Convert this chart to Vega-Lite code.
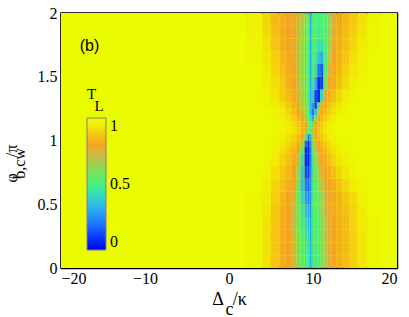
{
"$schema": "https://vega.github.io/schema/vega-lite/v6.json",
"width": 336, "height": 255,
"autosize": {"type": "none"},
"padding": {"left": 61, "top": 13, "right": 12, "bottom": 49},
"background": "white",
"config": {"view": {"stroke": "black", "strokeWidth": 1.5, "fill": "#eaff00"}, "font": "Liberation Serif"},
"resolve": {"axis": {"x": "independent", "y": "independent"}},
"layer": [
{
"data": {"values": [
{"x":-20,"x2":2,"y":0,"y2":2,"t":0.99},
{"x":18,"x2":20,"y":0,"y2":2,"t":0.99},
{"x":2,"x2":4,"y":0,"y2":0.1,"t":0.97},{"x":4,"x2":5,"y":0,"y2":0.1,"t":0.92},{"x":5,"x2":6,"y":0,"y2":0.1,"t":0.87},{"x":6,"x2":6.7,"y":0,"y2":0.1,"t":0.82},{"x":6.7,"x2":7.4,"y":0,"y2":0.1,"t":0.8},{"x":7.4,"x2":8,"y":0,"y2":0.1,"t":0.74},{"x":8,"x2":8.5,"y":0,"y2":0.1,"t":0.62},{"x":8.5,"x2":9,"y":0,"y2":0.1,"t":0.52},{"x":9,"x2":9.35,"y":0,"y2":0.1,"t":0.48},{"x":9.35,"x2":9.6,"y":0,"y2":0.1,"t":0.46},{"x":9.6,"x2":9.85,"y":0,"y2":0.1,"t":0.3},{"x":9.85,"x2":10.15,"y":0,"y2":0.1,"t":0.47},{"x":10.15,"x2":10.5,"y":0,"y2":0.1,"t":0.49},{"x":10.5,"x2":10.85,"y":0,"y2":0.1,"t":0.51},{"x":10.85,"x2":11.25,"y":0,"y2":0.1,"t":0.58},{"x":11.25,"x2":11.7,"y":0,"y2":0.1,"t":0.68},{"x":11.7,"x2":12.2,"y":0,"y2":0.1,"t":0.76},{"x":12.2,"x2":12.8,"y":0,"y2":0.1,"t":0.8},{"x":12.8,"x2":13.5,"y":0,"y2":0.1,"t":0.82},{"x":13.5,"x2":14.3,"y":0,"y2":0.1,"t":0.85},{"x":14.3,"x2":15.3,"y":0,"y2":0.1,"t":0.89},{"x":15.3,"x2":16.5,"y":0,"y2":0.1,"t":0.93},{"x":16.5,"x2":18,"y":0,"y2":0.1,"t":0.97},
{"x":2,"x2":4,"y":0.1,"y2":0.2,"t":0.97},{"x":4,"x2":5,"y":0.1,"y2":0.2,"t":0.92},{"x":5,"x2":6,"y":0.1,"y2":0.2,"t":0.87},{"x":6,"x2":6.7,"y":0.1,"y2":0.2,"t":0.82},{"x":6.7,"x2":7.4,"y":0.1,"y2":0.2,"t":0.8},{"x":7.4,"x2":8,"y":0.1,"y2":0.2,"t":0.74},{"x":8,"x2":8.5,"y":0.1,"y2":0.2,"t":0.62},{"x":8.5,"x2":9,"y":0.1,"y2":0.2,"t":0.52},{"x":9,"x2":9.35,"y":0.1,"y2":0.2,"t":0.46},{"x":9.35,"x2":9.6,"y":0.1,"y2":0.2,"t":0.44},{"x":9.6,"x2":9.85,"y":0.1,"y2":0.2,"t":0.3},{"x":9.85,"x2":10.15,"y":0.1,"y2":0.2,"t":0.47},{"x":10.15,"x2":10.5,"y":0.1,"y2":0.2,"t":0.49},{"x":10.5,"x2":10.85,"y":0.1,"y2":0.2,"t":0.51},{"x":10.85,"x2":11.25,"y":0.1,"y2":0.2,"t":0.58},{"x":11.25,"x2":11.7,"y":0.1,"y2":0.2,"t":0.68},{"x":11.7,"x2":12.2,"y":0.1,"y2":0.2,"t":0.76},{"x":12.2,"x2":12.8,"y":0.1,"y2":0.2,"t":0.8},{"x":12.8,"x2":13.5,"y":0.1,"y2":0.2,"t":0.82},{"x":13.5,"x2":14.3,"y":0.1,"y2":0.2,"t":0.85},{"x":14.3,"x2":15.3,"y":0.1,"y2":0.2,"t":0.89},{"x":15.3,"x2":16.5,"y":0.1,"y2":0.2,"t":0.93},{"x":16.5,"x2":18,"y":0.1,"y2":0.2,"t":0.97},
{"x":2,"x2":4,"y":0.2,"y2":0.3,"t":0.97},{"x":4,"x2":5,"y":0.2,"y2":0.3,"t":0.92},{"x":5,"x2":6,"y":0.2,"y2":0.3,"t":0.87},{"x":6,"x2":6.7,"y":0.2,"y2":0.3,"t":0.82},{"x":6.7,"x2":7.4,"y":0.2,"y2":0.3,"t":0.8},{"x":7.4,"x2":8,"y":0.2,"y2":0.3,"t":0.73},{"x":8,"x2":8.5,"y":0.2,"y2":0.3,"t":0.6},{"x":8.5,"x2":9,"y":0.2,"y2":0.3,"t":0.5},{"x":9,"x2":9.35,"y":0.2,"y2":0.3,"t":0.44},{"x":9.35,"x2":9.6,"y":0.2,"y2":0.3,"t":0.4},{"x":9.6,"x2":9.85,"y":0.2,"y2":0.3,"t":0.3},{"x":9.85,"x2":10.15,"y":0.2,"y2":0.3,"t":0.48},{"x":10.15,"x2":10.5,"y":0.2,"y2":0.3,"t":0.5},{"x":10.5,"x2":10.85,"y":0.2,"y2":0.3,"t":0.52},{"x":10.85,"x2":11.25,"y":0.2,"y2":0.3,"t":0.59},{"x":11.25,"x2":11.7,"y":0.2,"y2":0.3,"t":0.69},{"x":11.7,"x2":12.2,"y":0.2,"y2":0.3,"t":0.77},{"x":12.2,"x2":12.8,"y":0.2,"y2":0.3,"t":0.8},{"x":12.8,"x2":13.5,"y":0.2,"y2":0.3,"t":0.82},{"x":13.5,"x2":14.3,"y":0.2,"y2":0.3,"t":0.85},{"x":14.3,"x2":15.3,"y":0.2,"y2":0.3,"t":0.89},{"x":15.3,"x2":16.5,"y":0.2,"y2":0.3,"t":0.93},{"x":16.5,"x2":18,"y":0.2,"y2":0.3,"t":0.97},
{"x":2,"x2":4,"y":0.3,"y2":0.4,"t":0.97},{"x":4,"x2":5,"y":0.3,"y2":0.4,"t":0.92},{"x":5,"x2":6,"y":0.3,"y2":0.4,"t":0.87},{"x":6,"x2":6.7,"y":0.3,"y2":0.4,"t":0.82},{"x":6.7,"x2":7.4,"y":0.3,"y2":0.4,"t":0.8},{"x":7.4,"x2":8,"y":0.3,"y2":0.4,"t":0.72},{"x":8,"x2":8.5,"y":0.3,"y2":0.4,"t":0.58},{"x":8.5,"x2":9,"y":0.3,"y2":0.4,"t":0.48},{"x":9,"x2":9.35,"y":0.3,"y2":0.4,"t":0.4},{"x":9.35,"x2":9.6,"y":0.3,"y2":0.4,"t":0.36},{"x":9.6,"x2":9.85,"y":0.3,"y2":0.4,"t":0.3},{"x":9.85,"x2":10.15,"y":0.3,"y2":0.4,"t":0.48},{"x":10.15,"x2":10.5,"y":0.3,"y2":0.4,"t":0.5},{"x":10.5,"x2":10.85,"y":0.3,"y2":0.4,"t":0.53},{"x":10.85,"x2":11.25,"y":0.3,"y2":0.4,"t":0.6},{"x":11.25,"x2":11.7,"y":0.3,"y2":0.4,"t":0.7},{"x":11.7,"x2":12.2,"y":0.3,"y2":0.4,"t":0.77},{"x":12.2,"x2":12.8,"y":0.3,"y2":0.4,"t":0.8},{"x":12.8,"x2":13.5,"y":0.3,"y2":0.4,"t":0.82},{"x":13.5,"x2":14.3,"y":0.3,"y2":0.4,"t":0.85},{"x":14.3,"x2":15.3,"y":0.3,"y2":0.4,"t":0.9},{"x":15.3,"x2":16.5,"y":0.3,"y2":0.4,"t":0.94},{"x":16.5,"x2":18,"y":0.3,"y2":0.4,"t":0.97},
{"x":2,"x2":4,"y":0.4,"y2":0.5,"t":0.97},{"x":4,"x2":5,"y":0.4,"y2":0.5,"t":0.93},{"x":5,"x2":6,"y":0.4,"y2":0.5,"t":0.88},{"x":6,"x2":6.7,"y":0.4,"y2":0.5,"t":0.83},{"x":6.7,"x2":7.4,"y":0.4,"y2":0.5,"t":0.8},{"x":7.4,"x2":8,"y":0.4,"y2":0.5,"t":0.72},{"x":8,"x2":8.5,"y":0.4,"y2":0.5,"t":0.58},{"x":8.5,"x2":9,"y":0.4,"y2":0.5,"t":0.45},{"x":9,"x2":9.35,"y":0.4,"y2":0.5,"t":0.34},{"x":9.35,"x2":9.6,"y":0.4,"y2":0.5,"t":0.3},{"x":9.6,"x2":9.85,"y":0.4,"y2":0.5,"t":0.28},{"x":9.85,"x2":10.15,"y":0.4,"y2":0.5,"t":0.49},{"x":10.15,"x2":10.5,"y":0.4,"y2":0.5,"t":0.51},{"x":10.5,"x2":10.85,"y":0.4,"y2":0.5,"t":0.55},{"x":10.85,"x2":11.25,"y":0.4,"y2":0.5,"t":0.63},{"x":11.25,"x2":11.7,"y":0.4,"y2":0.5,"t":0.72},{"x":11.7,"x2":12.2,"y":0.4,"y2":0.5,"t":0.78},{"x":12.2,"x2":12.8,"y":0.4,"y2":0.5,"t":0.81},{"x":12.8,"x2":13.5,"y":0.4,"y2":0.5,"t":0.83},{"x":13.5,"x2":14.3,"y":0.4,"y2":0.5,"t":0.86},{"x":14.3,"x2":15.3,"y":0.4,"y2":0.5,"t":0.9},{"x":15.3,"x2":16.5,"y":0.4,"y2":0.5,"t":0.94},{"x":16.5,"x2":18,"y":0.4,"y2":0.5,"t":0.98},
{"x":2,"x2":4,"y":0.5,"y2":0.6,"t":0.97},{"x":4,"x2":5,"y":0.5,"y2":0.6,"t":0.94},{"x":5,"x2":6,"y":0.5,"y2":0.6,"t":0.89},{"x":6,"x2":6.7,"y":0.5,"y2":0.6,"t":0.84},{"x":6.7,"x2":7.4,"y":0.5,"y2":0.6,"t":0.8},{"x":7.4,"x2":8,"y":0.5,"y2":0.6,"t":0.76},{"x":8,"x2":8.5,"y":0.5,"y2":0.6,"t":0.56},{"x":8.5,"x2":9,"y":0.5,"y2":0.6,"t":0.4},{"x":9,"x2":9.35,"y":0.5,"y2":0.6,"t":0.27},{"x":9.35,"x2":9.6,"y":0.5,"y2":0.6,"t":0.24},{"x":9.6,"x2":9.85,"y":0.5,"y2":0.6,"t":0.26},{"x":9.85,"x2":10.15,"y":0.5,"y2":0.6,"t":0.48},{"x":10.15,"x2":10.5,"y":0.5,"y2":0.6,"t":0.52},{"x":10.5,"x2":10.85,"y":0.5,"y2":0.6,"t":0.57},{"x":10.85,"x2":11.25,"y":0.5,"y2":0.6,"t":0.62},{"x":11.25,"x2":11.7,"y":0.5,"y2":0.6,"t":0.72},{"x":11.7,"x2":12.2,"y":0.5,"y2":0.6,"t":0.79},{"x":12.2,"x2":12.8,"y":0.5,"y2":0.6,"t":0.81},{"x":12.8,"x2":13.5,"y":0.5,"y2":0.6,"t":0.83},{"x":13.5,"x2":14.3,"y":0.5,"y2":0.6,"t":0.87},{"x":14.3,"x2":15.3,"y":0.5,"y2":0.6,"t":0.91},{"x":15.3,"x2":16.5,"y":0.5,"y2":0.6,"t":0.95},{"x":16.5,"x2":18,"y":0.5,"y2":0.6,"t":0.98},
{"x":2,"x2":4,"y":0.6,"y2":0.7,"t":0.98},{"x":4,"x2":5,"y":0.6,"y2":0.7,"t":0.95},{"x":5,"x2":6,"y":0.6,"y2":0.7,"t":0.9},{"x":6,"x2":6.7,"y":0.6,"y2":0.7,"t":0.86},{"x":6.7,"x2":7.4,"y":0.6,"y2":0.7,"t":0.82},{"x":7.4,"x2":8,"y":0.6,"y2":0.7,"t":0.79},{"x":8,"x2":8.5,"y":0.6,"y2":0.7,"t":0.6},{"x":8.5,"x2":9,"y":0.6,"y2":0.7,"t":0.35},{"x":9,"x2":9.35,"y":0.6,"y2":0.7,"t":0.2},{"x":9.35,"x2":9.6,"y":0.6,"y2":0.7,"t":0.17},{"x":9.6,"x2":9.85,"y":0.6,"y2":0.7,"t":0.25},{"x":9.85,"x2":10.15,"y":0.6,"y2":0.7,"t":0.46},{"x":10.15,"x2":10.5,"y":0.6,"y2":0.7,"t":0.53},{"x":10.5,"x2":10.85,"y":0.6,"y2":0.7,"t":0.6},{"x":10.85,"x2":11.25,"y":0.6,"y2":0.7,"t":0.68},{"x":11.25,"x2":11.7,"y":0.6,"y2":0.7,"t":0.76},{"x":11.7,"x2":12.2,"y":0.6,"y2":0.7,"t":0.8},{"x":12.2,"x2":12.8,"y":0.6,"y2":0.7,"t":0.82},{"x":12.8,"x2":13.5,"y":0.6,"y2":0.7,"t":0.86},{"x":13.5,"x2":14.3,"y":0.6,"y2":0.7,"t":0.9},{"x":14.3,"x2":15.3,"y":0.6,"y2":0.7,"t":0.94},{"x":15.3,"x2":16.5,"y":0.6,"y2":0.7,"t":0.97},{"x":16.5,"x2":18,"y":0.6,"y2":0.7,"t":0.99},
{"x":2,"x2":4,"y":0.7,"y2":0.8,"t":0.98},{"x":4,"x2":5,"y":0.7,"y2":0.8,"t":0.96},{"x":5,"x2":6,"y":0.7,"y2":0.8,"t":0.92},{"x":6,"x2":6.7,"y":0.7,"y2":0.8,"t":0.88},{"x":6.7,"x2":7.4,"y":0.7,"y2":0.8,"t":0.84},{"x":7.4,"x2":8,"y":0.7,"y2":0.8,"t":0.8},{"x":8,"x2":8.5,"y":0.7,"y2":0.8,"t":0.66},{"x":8.5,"x2":9,"y":0.7,"y2":0.8,"t":0.36},{"x":9,"x2":9.35,"y":0.7,"y2":0.8,"t":0.12},{"x":9.35,"x2":9.6,"y":0.7,"y2":0.8,"t":0.1},{"x":9.6,"x2":9.85,"y":0.7,"y2":0.8,"t":0.22},{"x":9.85,"x2":10.15,"y":0.7,"y2":0.8,"t":0.45},{"x":10.15,"x2":10.5,"y":0.7,"y2":0.8,"t":0.56},{"x":10.5,"x2":10.85,"y":0.7,"y2":0.8,"t":0.66},{"x":10.85,"x2":11.25,"y":0.7,"y2":0.8,"t":0.75},{"x":11.25,"x2":11.7,"y":0.7,"y2":0.8,"t":0.8},{"x":11.7,"x2":12.2,"y":0.7,"y2":0.8,"t":0.82},{"x":12.2,"x2":12.8,"y":0.7,"y2":0.8,"t":0.86},{"x":12.8,"x2":13.5,"y":0.7,"y2":0.8,"t":0.9},{"x":13.5,"x2":14.3,"y":0.7,"y2":0.8,"t":0.93},{"x":14.3,"x2":15.3,"y":0.7,"y2":0.8,"t":0.96},{"x":15.3,"x2":16.5,"y":0.7,"y2":0.8,"t":0.98},{"x":16.5,"x2":18,"y":0.7,"y2":0.8,"t":0.99},
{"x":2,"x2":4,"y":0.8,"y2":0.9,"t":0.99},{"x":4,"x2":5,"y":0.8,"y2":0.9,"t":0.97},{"x":5,"x2":6,"y":0.8,"y2":0.9,"t":0.94},{"x":6,"x2":6.7,"y":0.8,"y2":0.9,"t":0.9},{"x":6.7,"x2":7.4,"y":0.8,"y2":0.9,"t":0.86},{"x":7.4,"x2":8,"y":0.8,"y2":0.9,"t":0.82},{"x":8,"x2":8.5,"y":0.8,"y2":0.9,"t":0.74},{"x":8.5,"x2":9,"y":0.8,"y2":0.9,"t":0.42},{"x":9,"x2":9.35,"y":0.8,"y2":0.9,"t":0.06},{"x":9.35,"x2":9.6,"y":0.8,"y2":0.9,"t":0.04},{"x":9.6,"x2":9.85,"y":0.8,"y2":0.9,"t":0.2},{"x":9.85,"x2":10.15,"y":0.8,"y2":0.9,"t":0.46},{"x":10.15,"x2":10.5,"y":0.8,"y2":0.9,"t":0.62},{"x":10.5,"x2":10.85,"y":0.8,"y2":0.9,"t":0.74},{"x":10.85,"x2":11.25,"y":0.8,"y2":0.9,"t":0.8},{"x":11.25,"x2":11.7,"y":0.8,"y2":0.9,"t":0.82},{"x":11.7,"x2":12.2,"y":0.8,"y2":0.9,"t":0.86},{"x":12.2,"x2":12.8,"y":0.8,"y2":0.9,"t":0.9},{"x":12.8,"x2":13.5,"y":0.8,"y2":0.9,"t":0.93},{"x":13.5,"x2":14.3,"y":0.8,"y2":0.9,"t":0.95},{"x":14.3,"x2":15.3,"y":0.8,"y2":0.9,"t":0.97},{"x":15.3,"x2":16.5,"y":0.8,"y2":0.9,"t":0.98},{"x":16.5,"x2":18,"y":0.8,"y2":0.9,"t":0.99},
{"x":2,"x2":4,"y":0.9,"y2":0.95,"t":0.99},{"x":4,"x2":5,"y":0.9,"y2":0.95,"t":0.97},{"x":5,"x2":6,"y":0.9,"y2":0.95,"t":0.95},{"x":6,"x2":6.7,"y":0.9,"y2":0.95,"t":0.92},{"x":6.7,"x2":7.4,"y":0.9,"y2":0.95,"t":0.88},{"x":7.4,"x2":8,"y":0.9,"y2":0.95,"t":0.84},{"x":8,"x2":8.5,"y":0.9,"y2":0.95,"t":0.8},{"x":8.5,"x2":9,"y":0.9,"y2":0.95,"t":0.52},{"x":9,"x2":9.35,"y":0.9,"y2":0.95,"t":0.06},{"x":9.35,"x2":9.6,"y":0.9,"y2":0.95,"t":0.04},{"x":9.6,"x2":9.85,"y":0.9,"y2":0.95,"t":0.2},{"x":9.85,"x2":10.15,"y":0.9,"y2":0.95,"t":0.5},{"x":10.15,"x2":10.5,"y":0.9,"y2":0.95,"t":0.68},{"x":10.5,"x2":10.85,"y":0.9,"y2":0.95,"t":0.78},{"x":10.85,"x2":11.25,"y":0.9,"y2":0.95,"t":0.81},{"x":11.25,"x2":11.7,"y":0.9,"y2":0.95,"t":0.85},{"x":11.7,"x2":12.2,"y":0.9,"y2":0.95,"t":0.89},{"x":12.2,"x2":12.8,"y":0.9,"y2":0.95,"t":0.92},{"x":12.8,"x2":13.5,"y":0.9,"y2":0.95,"t":0.95},{"x":13.5,"x2":14.3,"y":0.9,"y2":0.95,"t":0.97},{"x":14.3,"x2":15.3,"y":0.9,"y2":0.95,"t":0.98},{"x":15.3,"x2":16.5,"y":0.9,"y2":0.95,"t":0.99},{"x":16.5,"x2":18,"y":0.9,"y2":0.95,"t":0.99},
{"x":2,"x2":4,"y":0.95,"y2":1,"t":0.99},{"x":4,"x2":5,"y":0.95,"y2":1,"t":0.98},{"x":5,"x2":6,"y":0.95,"y2":1,"t":0.96},{"x":6,"x2":6.7,"y":0.95,"y2":1,"t":0.93},{"x":6.7,"x2":7.4,"y":0.95,"y2":1,"t":0.9},{"x":7.4,"x2":8,"y":0.95,"y2":1,"t":0.87},{"x":8,"x2":8.5,"y":0.95,"y2":1,"t":0.82},{"x":8.5,"x2":9,"y":0.95,"y2":1,"t":0.68},{"x":9,"x2":9.35,"y":0.95,"y2":1,"t":0.16},{"x":9.35,"x2":9.6,"y":0.95,"y2":1,"t":0.07},{"x":9.6,"x2":9.85,"y":0.95,"y2":1,"t":0.22},{"x":9.85,"x2":10.15,"y":0.95,"y2":1,"t":0.55},{"x":10.15,"x2":10.5,"y":0.95,"y2":1,"t":0.74},{"x":10.5,"x2":10.85,"y":0.95,"y2":1,"t":0.8},{"x":10.85,"x2":11.25,"y":0.95,"y2":1,"t":0.84},{"x":11.25,"x2":11.7,"y":0.95,"y2":1,"t":0.88},{"x":11.7,"x2":12.2,"y":0.95,"y2":1,"t":0.91},{"x":12.2,"x2":12.8,"y":0.95,"y2":1,"t":0.94},{"x":12.8,"x2":13.5,"y":0.95,"y2":1,"t":0.96},{"x":13.5,"x2":14.3,"y":0.95,"y2":1,"t":0.97},{"x":14.3,"x2":15.3,"y":0.95,"y2":1,"t":0.98},{"x":15.3,"x2":16.5,"y":0.95,"y2":1,"t":0.99},{"x":16.5,"x2":18,"y":0.95,"y2":1,"t":0.99},
{"x":2,"x2":4,"y":1,"y2":1.05,"t":0.99},{"x":4,"x2":5,"y":1,"y2":1.05,"t":0.98},{"x":5,"x2":6,"y":1,"y2":1.05,"t":0.97},{"x":6,"x2":6.7,"y":1,"y2":1.05,"t":0.95},{"x":6.7,"x2":7.4,"y":1,"y2":1.05,"t":0.92},{"x":7.4,"x2":8,"y":1,"y2":1.05,"t":0.89},{"x":8,"x2":8.5,"y":1,"y2":1.05,"t":0.85},{"x":8.5,"x2":9,"y":1,"y2":1.05,"t":0.8},{"x":9,"x2":9.35,"y":1,"y2":1.05,"t":0.45},{"x":9.35,"x2":9.6,"y":1,"y2":1.05,"t":0.2},{"x":9.6,"x2":9.85,"y":1,"y2":1.05,"t":0.3},{"x":9.85,"x2":10.15,"y":1,"y2":1.05,"t":0.62},{"x":10.15,"x2":10.5,"y":1,"y2":1.05,"t":0.79},{"x":10.5,"x2":10.85,"y":1,"y2":1.05,"t":0.84},{"x":10.85,"x2":11.25,"y":1,"y2":1.05,"t":0.88},{"x":11.25,"x2":11.7,"y":1,"y2":1.05,"t":0.91},{"x":11.7,"x2":12.2,"y":1,"y2":1.05,"t":0.94},{"x":12.2,"x2":12.8,"y":1,"y2":1.05,"t":0.96},{"x":12.8,"x2":13.5,"y":1,"y2":1.05,"t":0.97},{"x":13.5,"x2":14.3,"y":1,"y2":1.05,"t":0.98},{"x":14.3,"x2":15.3,"y":1,"y2":1.05,"t":0.99},{"x":15.3,"x2":16.5,"y":1,"y2":1.05,"t":0.99},{"x":16.5,"x2":18,"y":1,"y2":1.05,"t":0.99},
{"x":2,"x2":4,"y":1.05,"y2":1.1,"t":0.99},{"x":4,"x2":5,"y":1.05,"y2":1.1,"t":0.99},{"x":5,"x2":6,"y":1.05,"y2":1.1,"t":0.98},{"x":6,"x2":6.7,"y":1.05,"y2":1.1,"t":0.96},{"x":6.7,"x2":7.4,"y":1.05,"y2":1.1,"t":0.94},{"x":7.4,"x2":8,"y":1.05,"y2":1.1,"t":0.92},{"x":8,"x2":8.5,"y":1.05,"y2":1.1,"t":0.89},{"x":8.5,"x2":9,"y":1.05,"y2":1.1,"t":0.84},{"x":9,"x2":9.35,"y":1.05,"y2":1.1,"t":0.75},{"x":9.35,"x2":9.6,"y":1.05,"y2":1.1,"t":0.55},{"x":9.6,"x2":9.85,"y":1.05,"y2":1.1,"t":0.5},{"x":9.85,"x2":10.15,"y":1.05,"y2":1.1,"t":0.65},{"x":10.15,"x2":10.5,"y":1.05,"y2":1.1,"t":0.8},{"x":10.5,"x2":10.85,"y":1.05,"y2":1.1,"t":0.86},{"x":10.85,"x2":11.25,"y":1.05,"y2":1.1,"t":0.9},{"x":11.25,"x2":11.7,"y":1.05,"y2":1.1,"t":0.93},{"x":11.7,"x2":12.2,"y":1.05,"y2":1.1,"t":0.95},{"x":12.2,"x2":12.8,"y":1.05,"y2":1.1,"t":0.97},{"x":12.8,"x2":13.5,"y":1.05,"y2":1.1,"t":0.98},{"x":13.5,"x2":14.3,"y":1.05,"y2":1.1,"t":0.99},{"x":14.3,"x2":15.3,"y":1.05,"y2":1.1,"t":0.99},{"x":15.3,"x2":16.5,"y":1.05,"y2":1.1,"t":0.99},{"x":16.5,"x2":18,"y":1.05,"y2":1.1,"t":0.99},
{"x":2,"x2":4,"y":1.1,"y2":1.15,"t":0.99},{"x":4,"x2":5,"y":1.1,"y2":1.15,"t":0.99},{"x":5,"x2":6,"y":1.1,"y2":1.15,"t":0.98},{"x":6,"x2":6.7,"y":1.1,"y2":1.15,"t":0.96},{"x":6.7,"x2":7.4,"y":1.1,"y2":1.15,"t":0.94},{"x":7.4,"x2":8,"y":1.1,"y2":1.15,"t":0.92},{"x":8,"x2":8.5,"y":1.1,"y2":1.15,"t":0.88},{"x":8.5,"x2":9,"y":1.1,"y2":1.15,"t":0.83},{"x":9,"x2":9.35,"y":1.1,"y2":1.15,"t":0.76},{"x":9.35,"x2":9.6,"y":1.1,"y2":1.15,"t":0.62},{"x":9.6,"x2":9.85,"y":1.1,"y2":1.15,"t":0.5},{"x":9.85,"x2":10.15,"y":1.1,"y2":1.15,"t":0.55},{"x":10.15,"x2":10.5,"y":1.1,"y2":1.15,"t":0.78},{"x":10.5,"x2":10.85,"y":1.1,"y2":1.15,"t":0.85},{"x":10.85,"x2":11.25,"y":1.1,"y2":1.15,"t":0.89},{"x":11.25,"x2":11.7,"y":1.1,"y2":1.15,"t":0.92},{"x":11.7,"x2":12.2,"y":1.1,"y2":1.15,"t":0.95},{"x":12.2,"x2":12.8,"y":1.1,"y2":1.15,"t":0.97},{"x":12.8,"x2":13.5,"y":1.1,"y2":1.15,"t":0.98},{"x":13.5,"x2":14.3,"y":1.1,"y2":1.15,"t":0.99},{"x":14.3,"x2":15.3,"y":1.1,"y2":1.15,"t":0.99},{"x":15.3,"x2":16.5,"y":1.1,"y2":1.15,"t":0.99},{"x":16.5,"x2":18,"y":1.1,"y2":1.15,"t":0.99},
{"x":2,"x2":4,"y":1.15,"y2":1.2,"t":0.99},{"x":4,"x2":5,"y":1.15,"y2":1.2,"t":0.98},{"x":5,"x2":6,"y":1.15,"y2":1.2,"t":0.97},{"x":6,"x2":6.7,"y":1.15,"y2":1.2,"t":0.95},{"x":6.7,"x2":7.4,"y":1.15,"y2":1.2,"t":0.92},{"x":7.4,"x2":8,"y":1.15,"y2":1.2,"t":0.89},{"x":8,"x2":8.5,"y":1.15,"y2":1.2,"t":0.84},{"x":8.5,"x2":9,"y":1.15,"y2":1.2,"t":0.78},{"x":9,"x2":9.35,"y":1.15,"y2":1.2,"t":0.68},{"x":9.35,"x2":9.6,"y":1.15,"y2":1.2,"t":0.55},{"x":9.6,"x2":9.85,"y":1.15,"y2":1.2,"t":0.4},{"x":9.85,"x2":10.15,"y":1.15,"y2":1.2,"t":0.3},{"x":10.15,"x2":10.5,"y":1.15,"y2":1.2,"t":0.6},{"x":10.5,"x2":10.85,"y":1.15,"y2":1.2,"t":0.8},{"x":10.85,"x2":11.25,"y":1.15,"y2":1.2,"t":0.85},{"x":11.25,"x2":11.7,"y":1.15,"y2":1.2,"t":0.89},{"x":11.7,"x2":12.2,"y":1.15,"y2":1.2,"t":0.92},{"x":12.2,"x2":12.8,"y":1.15,"y2":1.2,"t":0.95},{"x":12.8,"x2":13.5,"y":1.15,"y2":1.2,"t":0.97},{"x":13.5,"x2":14.3,"y":1.15,"y2":1.2,"t":0.98},{"x":14.3,"x2":15.3,"y":1.15,"y2":1.2,"t":0.99},{"x":15.3,"x2":16.5,"y":1.15,"y2":1.2,"t":0.99},{"x":16.5,"x2":18,"y":1.15,"y2":1.2,"t":0.99},
{"x":2,"x2":4,"y":1.2,"y2":1.25,"t":0.99},{"x":4,"x2":5,"y":1.2,"y2":1.25,"t":0.98},{"x":5,"x2":6,"y":1.2,"y2":1.25,"t":0.96},{"x":6,"x2":6.7,"y":1.2,"y2":1.25,"t":0.94},{"x":6.7,"x2":7.4,"y":1.2,"y2":1.25,"t":0.9},{"x":7.4,"x2":8,"y":1.2,"y2":1.25,"t":0.86},{"x":8,"x2":8.5,"y":1.2,"y2":1.25,"t":0.8},{"x":8.5,"x2":9,"y":1.2,"y2":1.25,"t":0.72},{"x":9,"x2":9.35,"y":1.2,"y2":1.25,"t":0.62},{"x":9.35,"x2":9.6,"y":1.2,"y2":1.25,"t":0.5},{"x":9.6,"x2":9.85,"y":1.2,"y2":1.25,"t":0.32},{"x":9.85,"x2":10.15,"y":1.2,"y2":1.25,"t":0.2},{"x":10.15,"x2":10.5,"y":1.2,"y2":1.25,"t":0.35},{"x":10.5,"x2":10.85,"y":1.2,"y2":1.25,"t":0.7},{"x":10.85,"x2":11.25,"y":1.2,"y2":1.25,"t":0.81},{"x":11.25,"x2":11.7,"y":1.2,"y2":1.25,"t":0.85},{"x":11.7,"x2":12.2,"y":1.2,"y2":1.25,"t":0.89},{"x":12.2,"x2":12.8,"y":1.2,"y2":1.25,"t":0.92},{"x":12.8,"x2":13.5,"y":1.2,"y2":1.25,"t":0.95},{"x":13.5,"x2":14.3,"y":1.2,"y2":1.25,"t":0.97},{"x":14.3,"x2":15.3,"y":1.2,"y2":1.25,"t":0.98},{"x":15.3,"x2":16.5,"y":1.2,"y2":1.25,"t":0.99},{"x":16.5,"x2":18,"y":1.2,"y2":1.25,"t":0.99},
{"x":2,"x2":4,"y":1.25,"y2":1.3,"t":0.99},{"x":4,"x2":5,"y":1.25,"y2":1.3,"t":0.97},{"x":5,"x2":6,"y":1.25,"y2":1.3,"t":0.95},{"x":6,"x2":6.7,"y":1.25,"y2":1.3,"t":0.92},{"x":6.7,"x2":7.4,"y":1.25,"y2":1.3,"t":0.88},{"x":7.4,"x2":8,"y":1.25,"y2":1.3,"t":0.83},{"x":8,"x2":8.5,"y":1.25,"y2":1.3,"t":0.78},{"x":8.5,"x2":9,"y":1.25,"y2":1.3,"t":0.68},{"x":9,"x2":9.35,"y":1.25,"y2":1.3,"t":0.58},{"x":9.35,"x2":9.6,"y":1.25,"y2":1.3,"t":0.5},{"x":9.6,"x2":9.85,"y":1.25,"y2":1.3,"t":0.3},{"x":9.85,"x2":10.15,"y":1.25,"y2":1.3,"t":0.25},{"x":10.15,"x2":10.5,"y":1.25,"y2":1.3,"t":0.12},{"x":10.5,"x2":10.85,"y":1.25,"y2":1.3,"t":0.45},{"x":10.85,"x2":11.25,"y":1.25,"y2":1.3,"t":0.76},{"x":11.25,"x2":11.7,"y":1.25,"y2":1.3,"t":0.82},{"x":11.7,"x2":12.2,"y":1.25,"y2":1.3,"t":0.86},{"x":12.2,"x2":12.8,"y":1.25,"y2":1.3,"t":0.9},{"x":12.8,"x2":13.5,"y":1.25,"y2":1.3,"t":0.93},{"x":13.5,"x2":14.3,"y":1.25,"y2":1.3,"t":0.96},{"x":14.3,"x2":15.3,"y":1.25,"y2":1.3,"t":0.98},{"x":15.3,"x2":16.5,"y":1.25,"y2":1.3,"t":0.99},{"x":16.5,"x2":18,"y":1.25,"y2":1.3,"t":0.99},
{"x":2,"x2":4,"y":1.3,"y2":1.4,"t":0.98},{"x":4,"x2":5,"y":1.3,"y2":1.4,"t":0.96},{"x":5,"x2":6,"y":1.3,"y2":1.4,"t":0.93},{"x":6,"x2":6.7,"y":1.3,"y2":1.4,"t":0.89},{"x":6.7,"x2":7.4,"y":1.3,"y2":1.4,"t":0.85},{"x":7.4,"x2":8,"y":1.3,"y2":1.4,"t":0.81},{"x":8,"x2":8.5,"y":1.3,"y2":1.4,"t":0.75},{"x":8.5,"x2":9,"y":1.3,"y2":1.4,"t":0.66},{"x":9,"x2":9.35,"y":1.3,"y2":1.4,"t":0.56},{"x":9.35,"x2":9.6,"y":1.3,"y2":1.4,"t":0.5},{"x":9.6,"x2":9.85,"y":1.3,"y2":1.4,"t":0.3},{"x":9.85,"x2":10.15,"y":1.3,"y2":1.4,"t":0.38},{"x":10.15,"x2":10.5,"y":1.3,"y2":1.4,"t":0.12},{"x":10.5,"x2":10.85,"y":1.3,"y2":1.4,"t":0.05},{"x":10.85,"x2":11.25,"y":1.3,"y2":1.4,"t":0.4},{"x":11.25,"x2":11.7,"y":1.3,"y2":1.4,"t":0.76},{"x":11.7,"x2":12.2,"y":1.3,"y2":1.4,"t":0.82},{"x":12.2,"x2":12.8,"y":1.3,"y2":1.4,"t":0.86},{"x":12.8,"x2":13.5,"y":1.3,"y2":1.4,"t":0.9},{"x":13.5,"x2":14.3,"y":1.3,"y2":1.4,"t":0.94},{"x":14.3,"x2":15.3,"y":1.3,"y2":1.4,"t":0.97},{"x":15.3,"x2":16.5,"y":1.3,"y2":1.4,"t":0.98},{"x":16.5,"x2":18,"y":1.3,"y2":1.4,"t":0.99},
{"x":2,"x2":4,"y":1.4,"y2":1.5,"t":0.98},{"x":4,"x2":5,"y":1.4,"y2":1.5,"t":0.95},{"x":5,"x2":6,"y":1.4,"y2":1.5,"t":0.92},{"x":6,"x2":6.7,"y":1.4,"y2":1.5,"t":0.88},{"x":6.7,"x2":7.4,"y":1.4,"y2":1.5,"t":0.83},{"x":7.4,"x2":8,"y":1.4,"y2":1.5,"t":0.8},{"x":8,"x2":8.5,"y":1.4,"y2":1.5,"t":0.73},{"x":8.5,"x2":9,"y":1.4,"y2":1.5,"t":0.64},{"x":9,"x2":9.35,"y":1.4,"y2":1.5,"t":0.55},{"x":9.35,"x2":9.6,"y":1.4,"y2":1.5,"t":0.5},{"x":9.6,"x2":9.85,"y":1.4,"y2":1.5,"t":0.3},{"x":9.85,"x2":10.15,"y":1.4,"y2":1.5,"t":0.45},{"x":10.15,"x2":10.5,"y":1.4,"y2":1.5,"t":0.3},{"x":10.5,"x2":10.85,"y":1.4,"y2":1.5,"t":0.06},{"x":10.85,"x2":11.25,"y":1.4,"y2":1.5,"t":0.1},{"x":11.25,"x2":11.7,"y":1.4,"y2":1.5,"t":0.6},{"x":11.7,"x2":12.2,"y":1.4,"y2":1.5,"t":0.8},{"x":12.2,"x2":12.8,"y":1.4,"y2":1.5,"t":0.82},{"x":12.8,"x2":13.5,"y":1.4,"y2":1.5,"t":0.86},{"x":13.5,"x2":14.3,"y":1.4,"y2":1.5,"t":0.91},{"x":14.3,"x2":15.3,"y":1.4,"y2":1.5,"t":0.95},{"x":15.3,"x2":16.5,"y":1.4,"y2":1.5,"t":0.97},{"x":16.5,"x2":18,"y":1.4,"y2":1.5,"t":0.99},
{"x":2,"x2":4,"y":1.5,"y2":1.6,"t":0.98},{"x":4,"x2":5,"y":1.5,"y2":1.6,"t":0.94},{"x":5,"x2":6,"y":1.5,"y2":1.6,"t":0.9},{"x":6,"x2":6.7,"y":1.5,"y2":1.6,"t":0.86},{"x":6.7,"x2":7.4,"y":1.5,"y2":1.6,"t":0.82},{"x":7.4,"x2":8,"y":1.5,"y2":1.6,"t":0.79},{"x":8,"x2":8.5,"y":1.5,"y2":1.6,"t":0.72},{"x":8.5,"x2":9,"y":1.5,"y2":1.6,"t":0.62},{"x":9,"x2":9.35,"y":1.5,"y2":1.6,"t":0.55},{"x":9.35,"x2":9.6,"y":1.5,"y2":1.6,"t":0.5},{"x":9.6,"x2":9.85,"y":1.5,"y2":1.6,"t":0.3},{"x":9.85,"x2":10.15,"y":1.5,"y2":1.6,"t":0.5},{"x":10.15,"x2":10.5,"y":1.5,"y2":1.6,"t":0.42},{"x":10.5,"x2":10.85,"y":1.5,"y2":1.6,"t":0.2},{"x":10.85,"x2":11.25,"y":1.5,"y2":1.6,"t":0.15},{"x":11.25,"x2":11.7,"y":1.5,"y2":1.6,"t":0.52},{"x":11.7,"x2":12.2,"y":1.5,"y2":1.6,"t":0.75},{"x":12.2,"x2":12.8,"y":1.5,"y2":1.6,"t":0.81},{"x":12.8,"x2":13.5,"y":1.5,"y2":1.6,"t":0.84},{"x":13.5,"x2":14.3,"y":1.5,"y2":1.6,"t":0.89},{"x":14.3,"x2":15.3,"y":1.5,"y2":1.6,"t":0.93},{"x":15.3,"x2":16.5,"y":1.5,"y2":1.6,"t":0.96},{"x":16.5,"x2":18,"y":1.5,"y2":1.6,"t":0.98},
{"x":2,"x2":4,"y":1.6,"y2":1.7,"t":0.97},{"x":4,"x2":5,"y":1.6,"y2":1.7,"t":0.93},{"x":5,"x2":6,"y":1.6,"y2":1.7,"t":0.89},{"x":6,"x2":6.7,"y":1.6,"y2":1.7,"t":0.84},{"x":6.7,"x2":7.4,"y":1.6,"y2":1.7,"t":0.81},{"x":7.4,"x2":8,"y":1.6,"y2":1.7,"t":0.78},{"x":8,"x2":8.5,"y":1.6,"y2":1.7,"t":0.72},{"x":8.5,"x2":9,"y":1.6,"y2":1.7,"t":0.62},{"x":9,"x2":9.35,"y":1.6,"y2":1.7,"t":0.55},{"x":9.35,"x2":9.6,"y":1.6,"y2":1.7,"t":0.5},{"x":9.6,"x2":9.85,"y":1.6,"y2":1.7,"t":0.3},{"x":9.85,"x2":10.15,"y":1.6,"y2":1.7,"t":0.5},{"x":10.15,"x2":10.5,"y":1.6,"y2":1.7,"t":0.46},{"x":10.5,"x2":10.85,"y":1.6,"y2":1.7,"t":0.35},{"x":10.85,"x2":11.25,"y":1.6,"y2":1.7,"t":0.3},{"x":11.25,"x2":11.7,"y":1.6,"y2":1.7,"t":0.5},{"x":11.7,"x2":12.2,"y":1.6,"y2":1.7,"t":0.7},{"x":12.2,"x2":12.8,"y":1.6,"y2":1.7,"t":0.8},{"x":12.8,"x2":13.5,"y":1.6,"y2":1.7,"t":0.83},{"x":13.5,"x2":14.3,"y":1.6,"y2":1.7,"t":0.87},{"x":14.3,"x2":15.3,"y":1.6,"y2":1.7,"t":0.92},{"x":15.3,"x2":16.5,"y":1.6,"y2":1.7,"t":0.95},{"x":16.5,"x2":18,"y":1.6,"y2":1.7,"t":0.98},
{"x":2,"x2":4,"y":1.7,"y2":1.8,"t":0.97},{"x":4,"x2":5,"y":1.7,"y2":1.8,"t":0.92},{"x":5,"x2":6,"y":1.7,"y2":1.8,"t":0.87},{"x":6,"x2":6.7,"y":1.7,"y2":1.8,"t":0.83},{"x":6.7,"x2":7.4,"y":1.7,"y2":1.8,"t":0.8},{"x":7.4,"x2":8,"y":1.7,"y2":1.8,"t":0.77},{"x":8,"x2":8.5,"y":1.7,"y2":1.8,"t":0.72},{"x":8.5,"x2":9,"y":1.7,"y2":1.8,"t":0.63},{"x":9,"x2":9.35,"y":1.7,"y2":1.8,"t":0.56},{"x":9.35,"x2":9.6,"y":1.7,"y2":1.8,"t":0.5},{"x":9.6,"x2":9.85,"y":1.7,"y2":1.8,"t":0.3},{"x":9.85,"x2":10.15,"y":1.7,"y2":1.8,"t":0.5},{"x":10.15,"x2":10.5,"y":1.7,"y2":1.8,"t":0.48},{"x":10.5,"x2":10.85,"y":1.7,"y2":1.8,"t":0.43},{"x":10.85,"x2":11.25,"y":1.7,"y2":1.8,"t":0.42},{"x":11.25,"x2":11.7,"y":1.7,"y2":1.8,"t":0.52},{"x":11.7,"x2":12.2,"y":1.7,"y2":1.8,"t":0.66},{"x":12.2,"x2":12.8,"y":1.7,"y2":1.8,"t":0.78},{"x":12.8,"x2":13.5,"y":1.7,"y2":1.8,"t":0.82},{"x":13.5,"x2":14.3,"y":1.7,"y2":1.8,"t":0.86},{"x":14.3,"x2":15.3,"y":1.7,"y2":1.8,"t":0.9},{"x":15.3,"x2":16.5,"y":1.7,"y2":1.8,"t":0.94},{"x":16.5,"x2":18,"y":1.7,"y2":1.8,"t":0.97},
{"x":2,"x2":4,"y":1.8,"y2":1.9,"t":0.96},{"x":4,"x2":5,"y":1.8,"y2":1.9,"t":0.91},{"x":5,"x2":6,"y":1.8,"y2":1.9,"t":0.86},{"x":6,"x2":6.7,"y":1.8,"y2":1.9,"t":0.82},{"x":6.7,"x2":7.4,"y":1.8,"y2":1.9,"t":0.8},{"x":7.4,"x2":8,"y":1.8,"y2":1.9,"t":0.78},{"x":8,"x2":8.5,"y":1.8,"y2":1.9,"t":0.73},{"x":8.5,"x2":9,"y":1.8,"y2":1.9,"t":0.65},{"x":9,"x2":9.35,"y":1.8,"y2":1.9,"t":0.57},{"x":9.35,"x2":9.6,"y":1.8,"y2":1.9,"t":0.52},{"x":9.6,"x2":9.85,"y":1.8,"y2":1.9,"t":0.3},{"x":9.85,"x2":10.15,"y":1.8,"y2":1.9,"t":0.5},{"x":10.15,"x2":10.5,"y":1.8,"y2":1.9,"t":0.49},{"x":10.5,"x2":10.85,"y":1.8,"y2":1.9,"t":0.47},{"x":10.85,"x2":11.25,"y":1.8,"y2":1.9,"t":0.48},{"x":11.25,"x2":11.7,"y":1.8,"y2":1.9,"t":0.54},{"x":11.7,"x2":12.2,"y":1.8,"y2":1.9,"t":0.64},{"x":12.2,"x2":12.8,"y":1.8,"y2":1.9,"t":0.76},{"x":12.8,"x2":13.5,"y":1.8,"y2":1.9,"t":0.81},{"x":13.5,"x2":14.3,"y":1.8,"y2":1.9,"t":0.85},{"x":14.3,"x2":15.3,"y":1.8,"y2":1.9,"t":0.89},{"x":15.3,"x2":16.5,"y":1.8,"y2":1.9,"t":0.93},{"x":16.5,"x2":18,"y":1.8,"y2":1.9,"t":0.97},
{"x":2,"x2":4,"y":1.9,"y2":2,"t":0.96},{"x":4,"x2":5,"y":1.9,"y2":2,"t":0.9},{"x":5,"x2":6,"y":1.9,"y2":2,"t":0.85},{"x":6,"x2":6.7,"y":1.9,"y2":2,"t":0.82},{"x":6.7,"x2":7.4,"y":1.9,"y2":2,"t":0.8},{"x":7.4,"x2":8,"y":1.9,"y2":2,"t":0.79},{"x":8,"x2":8.5,"y":1.9,"y2":2,"t":0.75},{"x":8.5,"x2":9,"y":1.9,"y2":2,"t":0.68},{"x":9,"x2":9.35,"y":1.9,"y2":2,"t":0.6},{"x":9.35,"x2":9.6,"y":1.9,"y2":2,"t":0.53},{"x":9.6,"x2":9.85,"y":1.9,"y2":2,"t":0.3},{"x":9.85,"x2":10.15,"y":1.9,"y2":2,"t":0.5},{"x":10.15,"x2":10.5,"y":1.9,"y2":2,"t":0.5},{"x":10.5,"x2":10.85,"y":1.9,"y2":2,"t":0.5},{"x":10.85,"x2":11.25,"y":1.9,"y2":2,"t":0.5},{"x":11.25,"x2":11.7,"y":1.9,"y2":2,"t":0.55},{"x":11.7,"x2":12.2,"y":1.9,"y2":2,"t":0.64},{"x":12.2,"x2":12.8,"y":1.9,"y2":2,"t":0.75},{"x":12.8,"x2":13.5,"y":1.9,"y2":2,"t":0.8},{"x":13.5,"x2":14.3,"y":1.9,"y2":2,"t":0.84},{"x":14.3,"x2":15.3,"y":1.9,"y2":2,"t":0.88},{"x":15.3,"x2":16.5,"y":1.9,"y2":2,"t":0.92},{"x":16.5,"x2":18,"y":1.9,"y2":2,"t":0.96}
]},
"mark": {"type": "rect"},
"encoding": {
"x": {"field": "x", "type": "quantitative", "scale": {"domain": [-20, 20], "nice": false, "zero": false},
 "axis": {"values": [-20, -10, 0, 10, 20], "grid": false, "tickSize": -5, "tickColor": "black", "tickWidth": 1.2, "domainColor": "black", "domainWidth": 1.5, "labelFont": "Liberation Serif", "labelFontSize": 16, "labelColor": "black", "labelPadding": 7, "title": ["Δ\u00a0\u00a0/κ", "c"], "titleFont": "Liberation Serif", "titleFontSize": 18, "titleFontWeight": "normal", "titleColor": "black", "titleLineHeight": 10, "titlePadding": 4}},
"x2": {"field": "x2"},
"y": {"field": "y", "type": "quantitative", "scale": {"domain": [0, 2], "nice": false, "zero": false},
 "axis": {"values": [0, 0.5, 1, 1.5, 2], "format": "~g", "grid": false, "tickSize": -5, "tickColor": "black", "tickWidth": 1.2, "domainColor": "black", "domainWidth": 1.5, "labelFont": "Liberation Serif", "labelFontSize": 16, "labelColor": "black", "labelPadding": 9, "title": ["φ\u00a0\u00a0\u00a0\u00a0/π", "b,cw"], "titleFont": "Liberation Serif", "titleFontSize": 16, "titleFontWeight": "normal", "titleColor": "black", "titleLineHeight": 8, "titlePadding": 10, "titleY": 150}},
"y2": {"field": "y2"},
"color": {"field": "t", "type": "quantitative",
 "scale": {"type": "linear", "domain": [0, 0.1, 0.2, 0.3, 0.4, 0.5, 0.6, 0.7, 0.8, 0.88, 0.94, 1], "range": ["#0000f5", "#0a3cff", "#1c78ff", "#2ea8f5", "#32d6c8", "#46f07c", "#7ee05a", "#c0c04a", "#f5a422", "#f6c810", "#f0ec04", "#eaff00"], "interpolate": "rgb"},
 "legend": {"type": "gradient", "orient": "none", "legendX": 26, "legendY": 74, "direction": "vertical", "gradientLength": 132, "gradientThickness": 19, "values": [0, 0.5, 1], "format": "~g", "labelFont": "Liberation Serif", "labelFontSize": 16, "labelColor": "black", "labelOffset": 4, "title": ["T", "\u200b\u00a0\u00a0L"], "titleFont": "Liberation Serif", "titleFontSize": 15, "titleFontWeight": "normal", "titleColor": "black", "titleLineHeight": 12, "titlePadding": 4, "gradientStrokeColor": "#808080", "gradientStrokeWidth": 1}}
}
},
{
"data": {"values": [{"x": -16.6, "y": 1.74, "label": "(b)"}]},
"mark": {"type": "text", "font": "Liberation Sans", "fontSize": 16, "color": "black"},
"encoding": {
"x": {"field": "x", "type": "quantitative", "axis": {"orient": "top", "labels": false, "title": null, "values": [-20, -10, 0, 10, 20], "grid": false, "tickSize": -5, "tickColor": "black", "tickWidth": 1.2, "domainColor": "black", "domainWidth": 1.5}},
"y": {"field": "y", "type": "quantitative", "axis": {"orient": "right", "labels": false, "title": null, "values": [0, 0.5, 1, 1.5, 2], "grid": false, "tickSize": -5, "tickColor": "black", "tickWidth": 1.2, "domainColor": "black", "domainWidth": 1.5}},
"text": {"field": "label"}
}
}
]
}
